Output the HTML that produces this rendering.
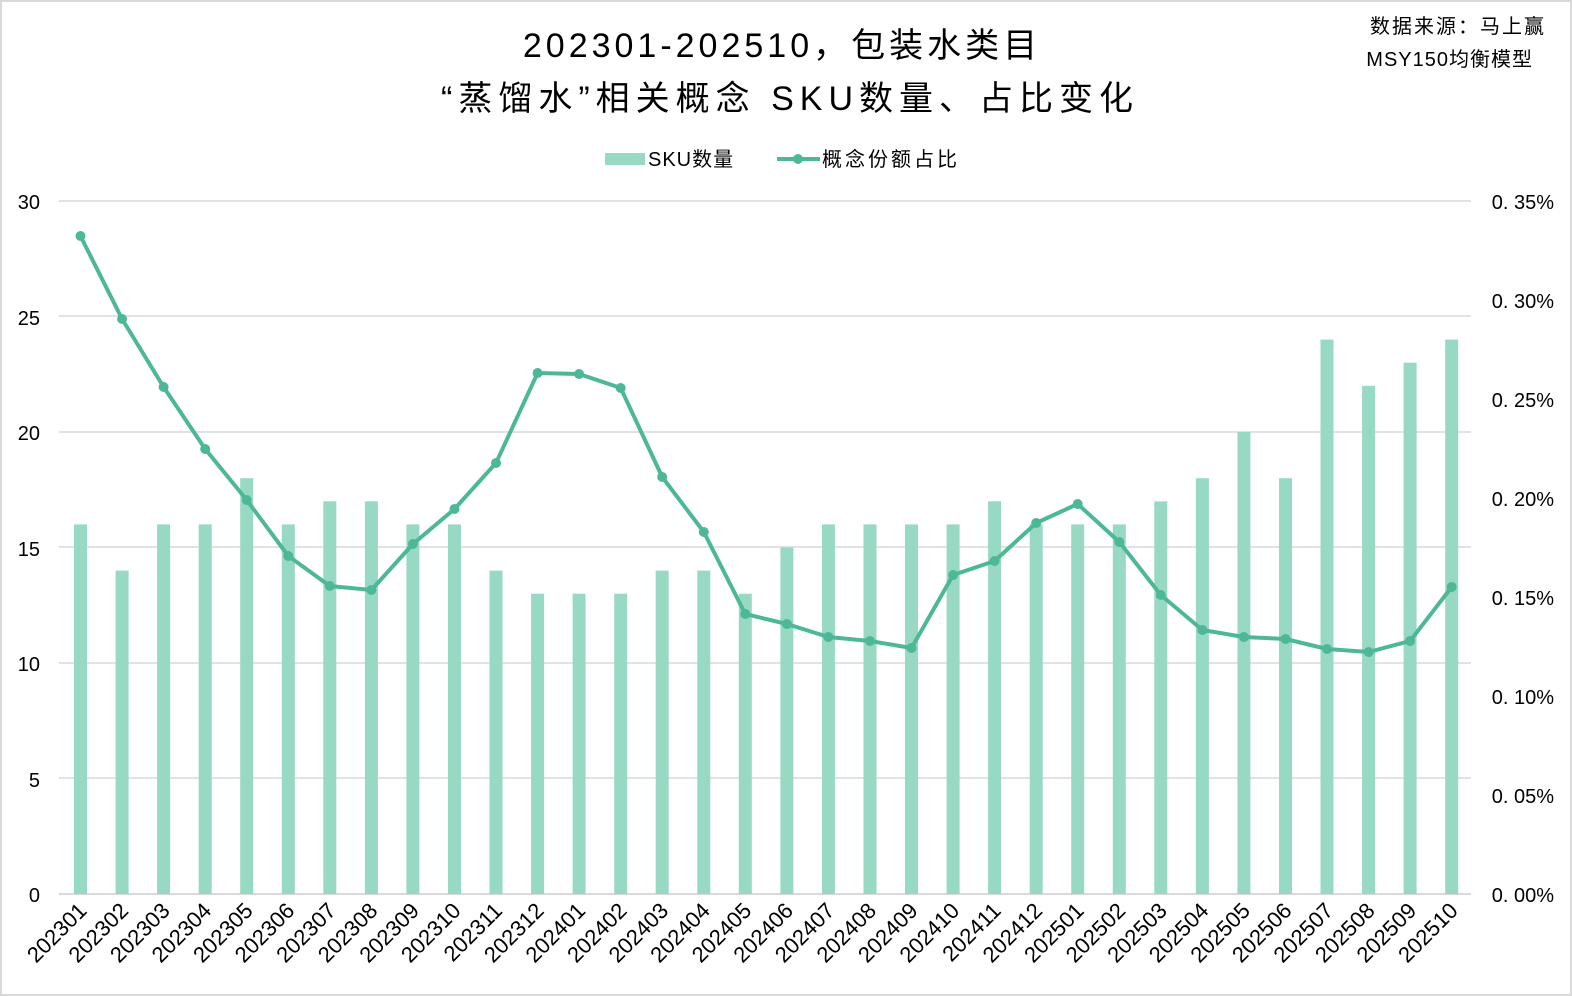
<!DOCTYPE html>
<html><head><meta charset="utf-8"><style>
html,body{margin:0;padding:0;background:#fff}
svg{display:block}
text{font-family:"Liberation Sans","Noto Sans CJK SC",sans-serif;fill:#000}
</style></head><body>
<svg width="1572" height="996" viewBox="0 0 1572 996" xmlns="http://www.w3.org/2000/svg">
<rect x="1" y="1" width="1570" height="994" fill="#fff" stroke="#d9d9d9" stroke-width="2"/>
<text x="782" y="57" text-anchor="middle" font-size="34" letter-spacing="4">202301-202510，包装水类目</text>
<text x="790" y="110" text-anchor="middle" font-size="34" letter-spacing="6">“蒸馏水”相关概念 SKU数量、占比变化</text>
<text x="1546" y="33" text-anchor="end" font-size="20" letter-spacing="2">数据来源：马上赢</text>
<text x="1533" y="66" text-anchor="end" font-size="20" letter-spacing="1">MSY150均衡模型</text>
<rect x="605" y="153" width="40" height="12" fill="#97d9c3"/>
<text x="648" y="166" font-size="20" letter-spacing="1">SKU数量</text>
<line x1="777" y1="159" x2="820" y2="159" stroke="#4db897" stroke-width="4"/>
<circle cx="798" cy="159" r="5" fill="#4db897"/>
<text x="822" y="166" font-size="20" letter-spacing="3">概念份额占比</text>
<g stroke="#d9d9d9" stroke-width="1.5">
<line x1="59" y1="201" x2="1471" y2="201"/><line x1="59" y1="316" x2="1471" y2="316"/><line x1="59" y1="432" x2="1471" y2="432"/><line x1="59" y1="547" x2="1471" y2="547"/><line x1="59" y1="663" x2="1471" y2="663"/><line x1="59" y1="778" x2="1471" y2="778"/><line x1="59" y1="894" x2="1471" y2="894" stroke-width="2"/>
</g>
<g font-size="20" text-anchor="end">
<text x="40" y="209">30</text><text x="40" y="325">25</text><text x="40" y="440">20</text><text x="40" y="556">15</text><text x="40" y="671">10</text><text x="40" y="787">5</text><text x="40" y="902">0</text>
</g>
<g font-size="20" font-family="Liberation Mono,monospace" text-anchor="end">
<text x="1554" y="209">0. 35%</text><text x="1554" y="308">0. 30%</text><text x="1554" y="407">0. 25%</text><text x="1554" y="506">0. 20%</text><text x="1554" y="605">0. 15%</text><text x="1554" y="704">0. 10%</text><text x="1554" y="803">0. 05%</text><text x="1554" y="902">0. 00%</text>
</g>
<g fill="#97d9c3" transform="translate(0,1)">
<rect x="74" y="523.4" width="13" height="369.6"/>
<rect x="115.6" y="569.6" width="13" height="323.4"/>
<rect x="157.1" y="523.4" width="13" height="369.6"/>
<rect x="198.7" y="523.4" width="13" height="369.6"/>
<rect x="240.2" y="477.2" width="13" height="415.8"/>
<rect x="281.8" y="523.4" width="13" height="369.6"/>
<rect x="323.3" y="500.3" width="13" height="392.7"/>
<rect x="364.9" y="500.3" width="13" height="392.7"/>
<rect x="406.4" y="523.4" width="13" height="369.6"/>
<rect x="448" y="523.4" width="13" height="369.6"/>
<rect x="489.5" y="569.6" width="13" height="323.4"/>
<rect x="531.1" y="592.7" width="13" height="300.3"/>
<rect x="572.6" y="592.7" width="13" height="300.3"/>
<rect x="614.2" y="592.7" width="13" height="300.3"/>
<rect x="655.7" y="569.6" width="13" height="323.4"/>
<rect x="697.3" y="569.6" width="13" height="323.4"/>
<rect x="738.8" y="592.7" width="13" height="300.3"/>
<rect x="780.4" y="546.5" width="13" height="346.5"/>
<rect x="821.9" y="523.4" width="13" height="369.6"/>
<rect x="863.5" y="523.4" width="13" height="369.6"/>
<rect x="905" y="523.4" width="13" height="369.6"/>
<rect x="946.6" y="523.4" width="13" height="369.6"/>
<rect x="988.1" y="500.3" width="13" height="392.7"/>
<rect x="1029.7" y="523.4" width="13" height="369.6"/>
<rect x="1071.2" y="523.4" width="13" height="369.6"/>
<rect x="1112.8" y="523.4" width="13" height="369.6"/>
<rect x="1154.3" y="500.3" width="13" height="392.7"/>
<rect x="1195.9" y="477.2" width="13" height="415.8"/>
<rect x="1237.4" y="431" width="13" height="462"/>
<rect x="1279" y="477.2" width="13" height="415.8"/>
<rect x="1320.5" y="338.6" width="13" height="554.4"/>
<rect x="1362.1" y="384.8" width="13" height="508.2"/>
<rect x="1403.6" y="361.7" width="13" height="531.3"/>
<rect x="1445.2" y="338.6" width="13" height="554.4"/>
</g>
<g transform="translate(0,1)">
<polyline fill="none" stroke="#4db897" stroke-width="4" stroke-linejoin="round" points="80.5,235 122.1,318 163.6,386 205.2,448 246.7,499 288.3,555 329.8,585 371.4,589 412.9,543 454.5,508 496,462 537.6,372 579.1,373 620.7,387 662.2,476 703.8,531 745.3,613 786.9,623 828.4,636 870,640 911.5,647 953.1,574 994.6,560 1036.2,522 1077.7,503 1119.3,541 1160.8,594 1202.4,629 1243.9,636 1285.5,638 1327,648 1368.6,651 1410.1,640 1451.7,586"/>
<g fill="#4db897">
<circle cx="80.5" cy="235" r="5"/><circle cx="122.1" cy="318" r="5"/><circle cx="163.6" cy="386" r="5"/><circle cx="205.2" cy="448" r="5"/><circle cx="246.7" cy="499" r="5"/><circle cx="288.3" cy="555" r="5"/><circle cx="329.8" cy="585" r="5"/><circle cx="371.4" cy="589" r="5"/><circle cx="412.9" cy="543" r="5"/><circle cx="454.5" cy="508" r="5"/><circle cx="496" cy="462" r="5"/><circle cx="537.6" cy="372" r="5"/><circle cx="579.1" cy="373" r="5"/><circle cx="620.7" cy="387" r="5"/><circle cx="662.2" cy="476" r="5"/><circle cx="703.8" cy="531" r="5"/><circle cx="745.3" cy="613" r="5"/><circle cx="786.9" cy="623" r="5"/><circle cx="828.4" cy="636" r="5"/><circle cx="870" cy="640" r="5"/><circle cx="911.5" cy="647" r="5"/><circle cx="953.1" cy="574" r="5"/><circle cx="994.6" cy="560" r="5"/><circle cx="1036.2" cy="522" r="5"/><circle cx="1077.7" cy="503" r="5"/><circle cx="1119.3" cy="541" r="5"/><circle cx="1160.8" cy="594" r="5"/><circle cx="1202.4" cy="629" r="5"/><circle cx="1243.9" cy="636" r="5"/><circle cx="1285.5" cy="638" r="5"/><circle cx="1327" cy="648" r="5"/><circle cx="1368.6" cy="651" r="5"/><circle cx="1410.1" cy="640" r="5"/><circle cx="1451.7" cy="586" r="5"/>
</g>
</g>
<g font-size="22" text-anchor="end">
<text transform="translate(88,912) rotate(-45)">202301</text>
<text transform="translate(129.6,912) rotate(-45)">202302</text>
<text transform="translate(171.1,912) rotate(-45)">202303</text>
<text transform="translate(212.7,912) rotate(-45)">202304</text>
<text transform="translate(254.2,912) rotate(-45)">202305</text>
<text transform="translate(295.8,912) rotate(-45)">202306</text>
<text transform="translate(337.3,912) rotate(-45)">202307</text>
<text transform="translate(378.9,912) rotate(-45)">202308</text>
<text transform="translate(420.4,912) rotate(-45)">202309</text>
<text transform="translate(462,912) rotate(-45)">202310</text>
<text transform="translate(503.5,912) rotate(-45)">202311</text>
<text transform="translate(545.1,912) rotate(-45)">202312</text>
<text transform="translate(586.6,912) rotate(-45)">202401</text>
<text transform="translate(628.2,912) rotate(-45)">202402</text>
<text transform="translate(669.7,912) rotate(-45)">202403</text>
<text transform="translate(711.3,912) rotate(-45)">202404</text>
<text transform="translate(752.8,912) rotate(-45)">202405</text>
<text transform="translate(794.4,912) rotate(-45)">202406</text>
<text transform="translate(835.9,912) rotate(-45)">202407</text>
<text transform="translate(877.5,912) rotate(-45)">202408</text>
<text transform="translate(919,912) rotate(-45)">202409</text>
<text transform="translate(960.6,912) rotate(-45)">202410</text>
<text transform="translate(1002.1,912) rotate(-45)">202411</text>
<text transform="translate(1043.7,912) rotate(-45)">202412</text>
<text transform="translate(1085.2,912) rotate(-45)">202501</text>
<text transform="translate(1126.8,912) rotate(-45)">202502</text>
<text transform="translate(1168.3,912) rotate(-45)">202503</text>
<text transform="translate(1209.9,912) rotate(-45)">202504</text>
<text transform="translate(1251.4,912) rotate(-45)">202505</text>
<text transform="translate(1293,912) rotate(-45)">202506</text>
<text transform="translate(1334.5,912) rotate(-45)">202507</text>
<text transform="translate(1376.1,912) rotate(-45)">202508</text>
<text transform="translate(1417.6,912) rotate(-45)">202509</text>
<text transform="translate(1459.2,912) rotate(-45)">202510</text>
</g>
</svg>
</body></html>
